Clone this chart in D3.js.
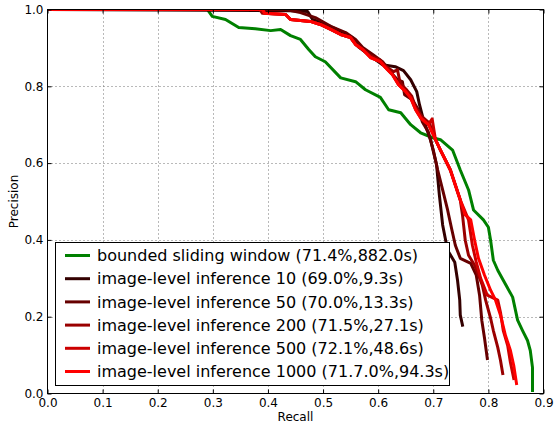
<!DOCTYPE html>
<html>
<head>
<meta charset="utf-8">
<script src="https://cdn.jsdelivr.net/npm/d3@7"></script>
<style>
  body { margin: 0; background: #fff; }
  text { font-family: "DejaVu Sans", sans-serif; }
</style>
</head>
<body>
<div id="chart"></div>
<script>
// precision-recall curves, [recall, precision]
const slidingWindow = [
  [0, 1], [0.290, 1], [0.299, 0.982], [0.323, 0.974], [0.347, 0.953], [0.377, 0.950],
  [0.405, 0.945], [0.423, 0.948], [0.441, 0.932], [0.459, 0.922], [0.474, 0.896],
  [0.486, 0.877], [0.504, 0.864], [0.532, 0.822], [0.559, 0.812], [0.577, 0.791],
  [0.604, 0.771], [0.619, 0.739], [0.641, 0.731], [0.659, 0.700], [0.677, 0.679],
  [0.699, 0.666], [0.713, 0.661], [0.735, 0.634], [0.749, 0.582], [0.764, 0.530],
  [0.773, 0.478], [0.791, 0.452], [0.800, 0.433], [0.804, 0.399], [0.809, 0.347],
  [0.817, 0.321], [0.827, 0.295], [0.844, 0.251], [0.853, 0.191], [0.862, 0.164],
  [0.871, 0.138], [0.876, 0.112], [0.880, 0.068], [0.880, 0.008]
];
const inference10 = [
  [0, 1], [0.441, 0.997], [0.472, 0.995], [0.481, 0.974], [0.510, 0.958], [0.541, 0.937],
  [0.553, 0.927], [0.564, 0.903], [0.582, 0.883], [0.608, 0.856], [0.631, 0.851],
  [0.646, 0.841], [0.659, 0.817], [0.670, 0.786], [0.675, 0.752], [0.682, 0.713],
  [0.695, 0.661], [0.706, 0.595], [0.711, 0.517], [0.717, 0.439], [0.726, 0.373],
  [0.739, 0.342], [0.744, 0.295], [0.748, 0.243], [0.749, 0.204], [0.753, 0.178]
];
const inference50 = [
  [0, 1], [0.432, 1], [0.459, 0.992], [0.486, 0.979], [0.514, 0.956], [0.541, 0.940],
  [0.559, 0.922], [0.572, 0.901], [0.590, 0.883], [0.608, 0.864], [0.622, 0.838],
  [0.635, 0.817], [0.644, 0.812], [0.648, 0.778], [0.662, 0.765], [0.673, 0.739],
  [0.680, 0.708], [0.691, 0.681], [0.700, 0.634], [0.708, 0.582], [0.717, 0.530],
  [0.726, 0.478], [0.733, 0.431], [0.740, 0.386], [0.749, 0.352], [0.768, 0.339],
  [0.778, 0.308], [0.784, 0.256], [0.788, 0.191], [0.793, 0.144], [0.798, 0.091]
];
const inference200 = [
  [0, 1], [0.385, 1], [0.390, 0.990], [0.432, 0.987], [0.441, 0.974], [0.477, 0.969],
  [0.495, 0.961], [0.514, 0.948], [0.532, 0.935], [0.550, 0.927], [0.559, 0.909],
  [0.572, 0.896], [0.586, 0.880], [0.604, 0.868], [0.613, 0.853], [0.628, 0.838],
  [0.635, 0.843], [0.640, 0.808], [0.652, 0.790], [0.661, 0.774], [0.668, 0.745],
  [0.679, 0.722], [0.693, 0.704], [0.704, 0.661], [0.713, 0.634], [0.722, 0.608],
  [0.731, 0.582], [0.740, 0.543], [0.749, 0.504], [0.753, 0.465], [0.758, 0.399],
  [0.764, 0.360], [0.775, 0.334], [0.782, 0.308], [0.789, 0.282], [0.795, 0.243],
  [0.804, 0.196], [0.809, 0.164], [0.817, 0.120], [0.822, 0.086], [0.826, 0.052]
];
const inference500 = [
  [0, 1], [0.390, 1], [0.394, 0.990], [0.432, 0.987], [0.441, 0.974], [0.477, 0.969],
  [0.495, 0.961], [0.514, 0.948], [0.532, 0.935], [0.550, 0.927], [0.559, 0.909],
  [0.572, 0.896], [0.586, 0.875], [0.604, 0.864], [0.613, 0.849], [0.626, 0.830],
  [0.637, 0.804], [0.650, 0.786], [0.659, 0.770], [0.668, 0.739], [0.677, 0.718],
  [0.691, 0.700], [0.698, 0.715], [0.704, 0.661], [0.713, 0.634], [0.722, 0.608],
  [0.731, 0.582], [0.740, 0.543], [0.749, 0.504], [0.764, 0.452], [0.771, 0.386],
  [0.778, 0.342], [0.786, 0.300], [0.798, 0.256], [0.817, 0.243], [0.822, 0.211],
  [0.827, 0.164], [0.835, 0.125], [0.840, 0.081], [0.846, 0.039]
];
const inference1000 = [
  [0, 1], [0.390, 1], [0.394, 0.990], [0.432, 0.987], [0.441, 0.974], [0.477, 0.969],
  [0.495, 0.961], [0.514, 0.948], [0.532, 0.935], [0.550, 0.927], [0.559, 0.909],
  [0.572, 0.896], [0.586, 0.875], [0.604, 0.864], [0.613, 0.849], [0.626, 0.830],
  [0.637, 0.804], [0.650, 0.786], [0.659, 0.770], [0.668, 0.739], [0.677, 0.718],
  [0.691, 0.700], [0.704, 0.661], [0.713, 0.634], [0.722, 0.608], [0.731, 0.582],
  [0.740, 0.543], [0.749, 0.504], [0.758, 0.465], [0.768, 0.452], [0.775, 0.399],
  [0.782, 0.352], [0.793, 0.308], [0.804, 0.269], [0.813, 0.243], [0.822, 0.204],
  [0.831, 0.151], [0.840, 0.112], [0.846, 0.073], [0.851, 0.026]
];

const seriesNames = [
  "bounded sliding window (71.4%,882.0s)",
  "image-level inference 10 (69.0%,9.3s)",
  "image-level inference 50 (70.0%,13.3s)",
  "image-level inference 200 (71.5%,27.1s)",
  "image-level inference 500 (72.1%,48.6s)",
  "image-level inference 1000 (71.7.0%,94.3s)"
];
const seriesColors = ["#008000", "#330000", "#660000", "#990000", "#cc0000", "#ff0000"];
const seriesData = [slidingWindow, inference10, inference50, inference200, inference500, inference1000];

const xTicks = [0, 0.1, 0.2, 0.3, 0.4, 0.5, 0.6, 0.7, 0.8, 0.9];
const yTicks = [0, 0.2, 0.4, 0.6, 0.8, 1.0];

const W = 555, H = 425;
const x = d3.scaleLinear().domain([0, 0.9]).range([47.5, 543.5]);
const y = d3.scaleLinear().domain([0, 1]).range([393.5, 9.5]);

const svg = d3.select("#chart").append("svg")
  .attr("width", W).attr("height", H)
  .style("background", "#fff");

svg.append("defs").append("clipPath").attr("id", "plot")
  .append("rect")
  .attr("x", x(0)).attr("y", y(1))
  .attr("width", x(0.9) - x(0)).attr("height", y(0) - y(1));

// grid
const grid = svg.append("g")
  .attr("stroke", "#000").attr("stroke-width", 1)
  .attr("stroke-dasharray", "1,3").attr("opacity", 0.55);
grid.selectAll(".gx").data(xTicks.slice(1, -1)).enter().append("line")
  .attr("x1", d => Math.round(x(d)) + 0.5).attr("x2", d => Math.round(x(d)) + 0.5)
  .attr("y1", y(1)).attr("y2", y(0));
grid.selectAll(".gy").data(yTicks.slice(1, -1)).enter().append("line")
  .attr("y1", d => Math.round(y(d)) + 0.5).attr("y2", d => Math.round(y(d)) + 0.5)
  .attr("x1", x(0)).attr("x2", x(0.9));

// curves
const line = d3.line().x(d => x(d[0])).y(d => y(d[1]));
svg.append("g").attr("clip-path", "url(#plot)")
  .selectAll("path").data(seriesData).enter().append("path")
  .attr("d", line)
  .attr("fill", "none")
  .attr("stroke", (d, i) => seriesColors[i])
  .attr("stroke-width", 3)
  .attr("stroke-linejoin", "round")
  .attr("stroke-linecap", "square");

// axes (ticks inside, all four sides)
const fmt = d3.format(".1f");
const xAxisB = d3.axisBottom(x).tickValues(xTicks).tickSize(-4).tickPadding(5).tickFormat(fmt);
const xAxisT = d3.axisTop(x).tickValues(xTicks).tickSize(-4).tickFormat("");
const yAxisL = d3.axisLeft(y).tickValues(yTicks).tickSize(-4).tickPadding(4).tickFormat(fmt);
const yAxisR = d3.axisRight(y).tickValues(yTicks).tickSize(-4).tickFormat("");

function styleAxis(g) {
  g.select(".domain").remove();
  g.selectAll("line").attr("stroke", "#000");
  g.selectAll("text").attr("fill", "#000").style("font-size", "12px")
    .style("font-family", "'DejaVu Sans', sans-serif");
}
svg.append("g").attr("transform", `translate(0,${y(0)})`).call(xAxisB).call(styleAxis);
svg.append("g").attr("transform", `translate(0,${y(1)})`).call(xAxisT).call(styleAxis);
svg.append("g").attr("transform", `translate(${x(0)},0)`).call(yAxisL).call(styleAxis);
svg.append("g").attr("transform", `translate(${x(0.9)},0)`).call(yAxisR).call(styleAxis);

// frame
svg.append("rect")
  .attr("x", x(0)).attr("y", y(1))
  .attr("width", x(0.9) - x(0)).attr("height", y(0) - y(1))
  .attr("fill", "none").attr("stroke", "#000").attr("stroke-width", 1);

// axis labels
svg.append("text").attr("x", (x(0) + x(0.9)) / 2).attr("y", 421)
  .attr("text-anchor", "middle").style("font-size", "12px").text("Recall");
svg.append("text")
  .attr("transform", `translate(17.5,${(y(0) + y(1)) / 2}) rotate(-90)`)
  .attr("text-anchor", "middle").style("font-size", "12px").text("Precision");

// legend
const legend = svg.append("g");
legend.append("rect")
  .attr("x", 55.5).attr("y", 242.5).attr("width", 394).attr("height", 143)
  .attr("fill", "#fff").attr("stroke", "#000").attr("stroke-width", 1);
const rows = legend.selectAll(".row").data(seriesNames).enter().append("g")
  .attr("transform", (d, i) => `translate(0,${255.5 + i * 23.2})`);
rows.append("line")
  .attr("x1", 65).attr("x2", 90).attr("y1", 0).attr("y2", 0)
  .attr("stroke", (d, i) => seriesColors[i]).attr("stroke-width", 3);
rows.append("text")
  .attr("x", 97).attr("y", 0).attr("dy", "0.36em")
  .style("font-size", "16px").attr("fill", "#000")
  .text(d => d);
</script>
</body>
</html>
